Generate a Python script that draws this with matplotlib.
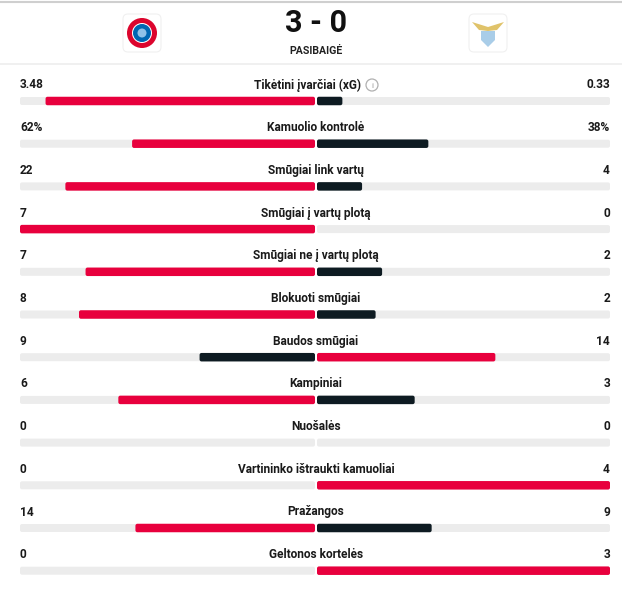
import matplotlib
matplotlib.use("Agg")
from matplotlib import pyplot as plt
from matplotlib.patches import FancyBboxPatch, Circle, Polygon

# match stats (home = Bayern, away = Lazio)
labels = ["Tikėtini įvarčiai (xG)", "Kamuolio kontrolė", "Smūgiai link vartų",
          "Smūgiai į vartų plotą", "Smūgiai ne į vartų plotą", "Blokuoti smūgiai",
          "Baudos smūgiai", "Kampiniai", "Nuošalės",
          "Vartininko ištraukti kamuoliai", "Pražangos", "Geltonos kortelės"]
home = [3.48, 62, 22, 7, 7, 8, 9, 6, 0, 0, 14, 0]
away = [0.33, 38, 4, 0, 2, 2, 14, 3, 0, 4, 9, 3]
home_txt = ["3.48", "62%", "22", "7", "7", "8", "9", "6", "0", "0", "14", "0"]
away_txt = ["0.33", "38%", "4", "0", "2", "2", "14", "3", "0", "4", "9", "3"]
score = "3 - 0"
status = "PASIBAIGĖ"

RED = "#e8003d"
DARK = "#0e1b22"
GRAY = "#ececec"
FONT = ["Liberation Sans Narrow", "Roboto", "DejaVu Sans"]

fig = plt.figure(figsize=(6.22, 5.90), dpi=100)
ax = fig.add_axes([0, 0, 1, 1])
ax.set_xlim(0, 622)
ax.set_ylim(590, 0)
ax.axis("off")


def bar(x0, x1, yc, color, h=8.5):
    if x1 - x0 <= 0:
        return
    r = min(2.0, (x1 - x0) / 2)
    ax.add_patch(FancyBboxPatch((x0, yc - h / 2), x1 - x0, h,
                                boxstyle="round,pad=0,rounding_size=%.2f" % r,
                                fc=color, ec="none", lw=0))


# header
ax.plot([0, 622], [1.5, 1.5], color="#cfcfcf", lw=1.5)
ax.plot([0, 622], [64, 64], color="#eeeeee", lw=1.2)
ax.text(316, 22.5, score, ha="center", va="center", fontsize=22,
        fontweight="bold", family=["Roboto", "DejaVu Sans"], color="#111111")
ax.text(316, 51, status, ha="center", va="center", fontsize=7.6,
        fontweight="bold", family=["Roboto", "DejaVu Sans"], color="#222222")

# logo boxes
for lx in (142, 488):
    ax.add_patch(FancyBboxPatch((lx - 19, 14), 38, 38,
                                boxstyle="round,pad=0,rounding_size=5",
                                fc="white", ec="#f0f0f0", lw=0.8))
# bayern crest
ax.add_patch(Circle((142, 33), 15, fc="#dc052d", ec="none"))
ax.add_patch(Circle((142, 33), 10, fc="white", ec="none"))
ax.add_patch(Circle((142, 33), 9, fc="#0066b2", ec="none"))
ax.add_patch(Circle((142, 33), 4.5, fc="#8fc1e8", ec="none"))
# lazio crest
ax.add_patch(Polygon([[472, 22], [488, 27], [504, 22], [497, 30], [488, 31], [479, 30]],
                     closed=True, fc="#e0c36a", ec="none"))
ax.add_patch(Polygon([[481, 31], [495, 31], [495, 40], [488, 47], [481, 40]],
                     closed=True, fc="#a9cde8", ec="none"))

# stat rows
cx = 316
left_edge, right_edge = 20, 610
y0, step = 85, 42.7
for i, lab in enumerate(labels):
    ly = y0 + i * step
    by = ly + 16
    tx = cx - 9 if i == 0 else cx
    ax.text(tx, ly, lab, ha="center", va="center", fontsize=8.6,
            fontweight="bold", family=FONT, color="#1a1a1a")
    ax.text(left_edge, ly, home_txt[i], ha="left", va="center", fontsize=8.6,
            fontweight="bold", family=FONT, color="#1a1a1a")
    ax.text(right_edge, ly, away_txt[i], ha="right", va="center", fontsize=8.6,
            fontweight="bold", family=FONT, color="#1a1a1a")
    # tracks
    bar(left_edge, cx - 1, by, GRAY, h=8)
    bar(cx + 1, right_edge, by, GRAY, h=8)
    tot = home[i] + away[i]
    if tot > 0:
        hs = home[i] / tot
        aws = away[i] / tot
        hcol = RED if home[i] >= away[i] else DARK
        acol = RED if away[i] >= home[i] else DARK
        bar(cx - 1 - hs * (cx - 1 - left_edge), cx - 1, by, hcol)
        bar(cx + 1, cx + 1 + aws * (right_edge - cx - 1), by, acol)

# info icon next to xG label
ax.add_patch(Circle((372, y0), 6, fc="none", ec="#b0b0b0", lw=0.9))
ax.text(372, y0 + 0.5, "i", ha="center", va="center", fontsize=6,
        color="#9a9a9a", family=["Roboto", "DejaVu Sans"])

plt.savefig("out.png", dpi=100)
